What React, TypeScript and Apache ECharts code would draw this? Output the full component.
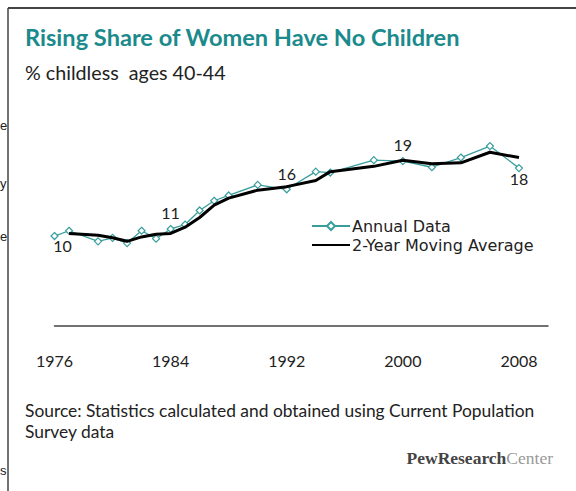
import React, { useEffect, useRef } from "react";
import * as echarts from "echarts";

const years = [1976, 1977, 1979, 1980, 1981, 1982, 1983, 1984, 1985, 1986, 1987, 1988, 1990, 1992, 1994, 1995, 1998, 2000, 2002, 2004, 2006, 2008];
const annual = [10.2, 10.8, 9.6, 10.0, 9.4, 10.8, 9.9, 11.0, 11.5, 13.1, 14.2, 14.8, 16.0, 15.5, 17.5, 17.4, 18.8, 18.7, 18.0, 19.1, 20.4, 17.9];
const maYears = [1977, 1979, 1980, 1981, 1982, 1983, 1984, 1985, 1986, 1987, 1988, 1990, 1992, 1994, 1995, 1998, 2000, 2002, 2004, 2006, 2008];
const movingAvg = [10.5, 10.3, 10.0, 9.6, 10.1, 10.4, 10.5, 11.2, 12.3, 13.7, 14.5, 15.4, 15.8, 16.5, 17.5, 18.1, 18.8, 18.4, 18.5, 19.7, 19.1];
const labelYears = [1976, 1984, 1992, 2000, 2008];
const labelTexts = ["10", "11", "16", "19", "18"];
const labelBelow = [true, false, false, false, true];
const tickYears = [1976, 1984, 1992, 2000, 2008];

const TEAL = "#3a9d9d";
const TITLE_TEAL = "#1b8a8c";

export default function App() {
  const ref = useRef<HTMLDivElement>(null);
  useEffect(() => {
    if (!ref.current) return;
    const chart = echarts.init(ref.current, undefined, { renderer: "svg" });
    const annualData = years.map((y, i) => {
      const li = labelYears.indexOf(y);
      if (li < 0) return [y, annual[i]];
      return {
        value: [y, annual[i]],
        label: {
          show: true,
          formatter: labelTexts[li],
          position: labelBelow[li] ? "bottom" : "top",
          offset: li === 0 ? [8, -7] : labelBelow[li] ? [0, -6] : [0, 0],
          distance: 4,
          color: "#222",
          fontFamily: "Lato",
          fontSize: 16,
        },
      };
    });
    const maData = maYears.map((y, i) => [y, movingAvg[i]]);
    chart.setOption({
      animation: false,
      backgroundColor: "#fff",
      grid: { left: 54.5, right: 28, top: 105.5, bottom: 165, containLabel: false },
      xAxis: {
        type: "value",
        min: 1976,
        max: 2010,
        interval: 8,
        axisLine: { show: true, lineStyle: { color: "#444", width: 1.5 } },
        axisTick: { show: false },
        splitLine: { show: false },
        axisLabel: {
          margin: 26,
          showMaxLabel: false,
          color: "#222",
          fontFamily: "Lato",
          fontSize: 16,
          formatter: (v: number) => (tickYears.indexOf(v) >= 0 ? String(v) : ""),
        },
      },
      yAxis: { type: "value", min: 0, max: 25, show: false, splitLine: { show: false } },
      legend: {
        orient: "vertical",
        left: 306,
        top: 213,
        itemWidth: 38,
        itemHeight: 10,
        itemGap: 3,
        textStyle: { color: "#222", fontFamily: "DejaVu Sans", fontSize: 16, padding: [0, 0, 0, -3] },
        data: [
          { name: "Annual Data" },
          { name: "2-Year Moving Average", itemStyle: { opacity: 0 } },
        ],
      },
      series: [
        {
          name: "Annual Data",
          type: "line",
          data: annualData,
          symbol: "diamond",
          symbolSize: 7,
          showAllSymbol: true,
          lineStyle: { color: TEAL, width: 1.3 },
          itemStyle: { color: "#fff", borderColor: TEAL, borderWidth: 1.2 },
          z: 2,
        },
        {
          name: "2-Year Moving Average",
          type: "line",
          data: maData,
          symbol: "none",
          lineStyle: { color: "#000", width: 3 },
          itemStyle: { color: "#000" },
          z: 3,
        },
      ],
      graphic: [
        { type: "line", shape: { x1: 8, y1: 8, x2: 576, y2: 8 }, style: { stroke: "#444", lineWidth: 2 } },
        { type: "line", shape: { x1: 8, y1: 8, x2: 8, y2: 491 }, style: { stroke: "#444", lineWidth: 1.5 } },
        { type: "text", style: { text: "Rising Share of Women Have No Children", x: 25, y: 37, fill: TITLE_TEAL, font: "bold 23.6px Lato", align: "left", verticalAlign: "middle" } },
        { type: "text", style: { text: "% childless  ages 40-44", x: 25, y: 72, fill: "#222", font: "19.7px Lato", align: "left", verticalAlign: "middle" } },
        { type: "text", style: { text: "Source: Statistics calculated and obtained using Current Population", x: 25, y: 410, fill: "#222", font: "17.4px Lato", align: "left", verticalAlign: "middle" } },
        { type: "text", style: { text: "Survey data", x: 25, y: 431, fill: "#222", font: "17.4px Lato", align: "left", verticalAlign: "middle" } },
        {
          type: "text",
          style: {
            text: "{a|PewResearch}{b|Center}",
            x: 553,
            y: 458,
            align: "right",
            verticalAlign: "middle",
            rich: {
              a: { fontFamily: "Liberation Serif", fontWeight: "bold", fontSize: 17.5, fill: "#444", color: "#444" },
              b: { fontFamily: "Liberation Serif", fontSize: 17.5, fill: "#999", color: "#999" },
            },
          },
        },
        { type: "text", style: { text: "e", x: 0, y: 125, fill: "#222", font: "13px Liberation Sans", align: "left", verticalAlign: "middle" } },
        { type: "text", style: { text: "y", x: 0, y: 183, fill: "#222", font: "13px Liberation Sans", align: "left", verticalAlign: "middle" } },
        { type: "text", style: { text: "e", x: 0, y: 236, fill: "#222", font: "13px Liberation Sans", align: "left", verticalAlign: "middle" } },
        { type: "text", style: { text: "s", x: 0, y: 470, fill: "#222", font: "13px Liberation Sans", align: "left", verticalAlign: "middle" } },
      ],
    });
    return () => chart.dispose();
  }, []);
  return <div ref={ref} style={{ position: "fixed", left: 0, top: 0, width: 576, height: 491 }} />;
}
